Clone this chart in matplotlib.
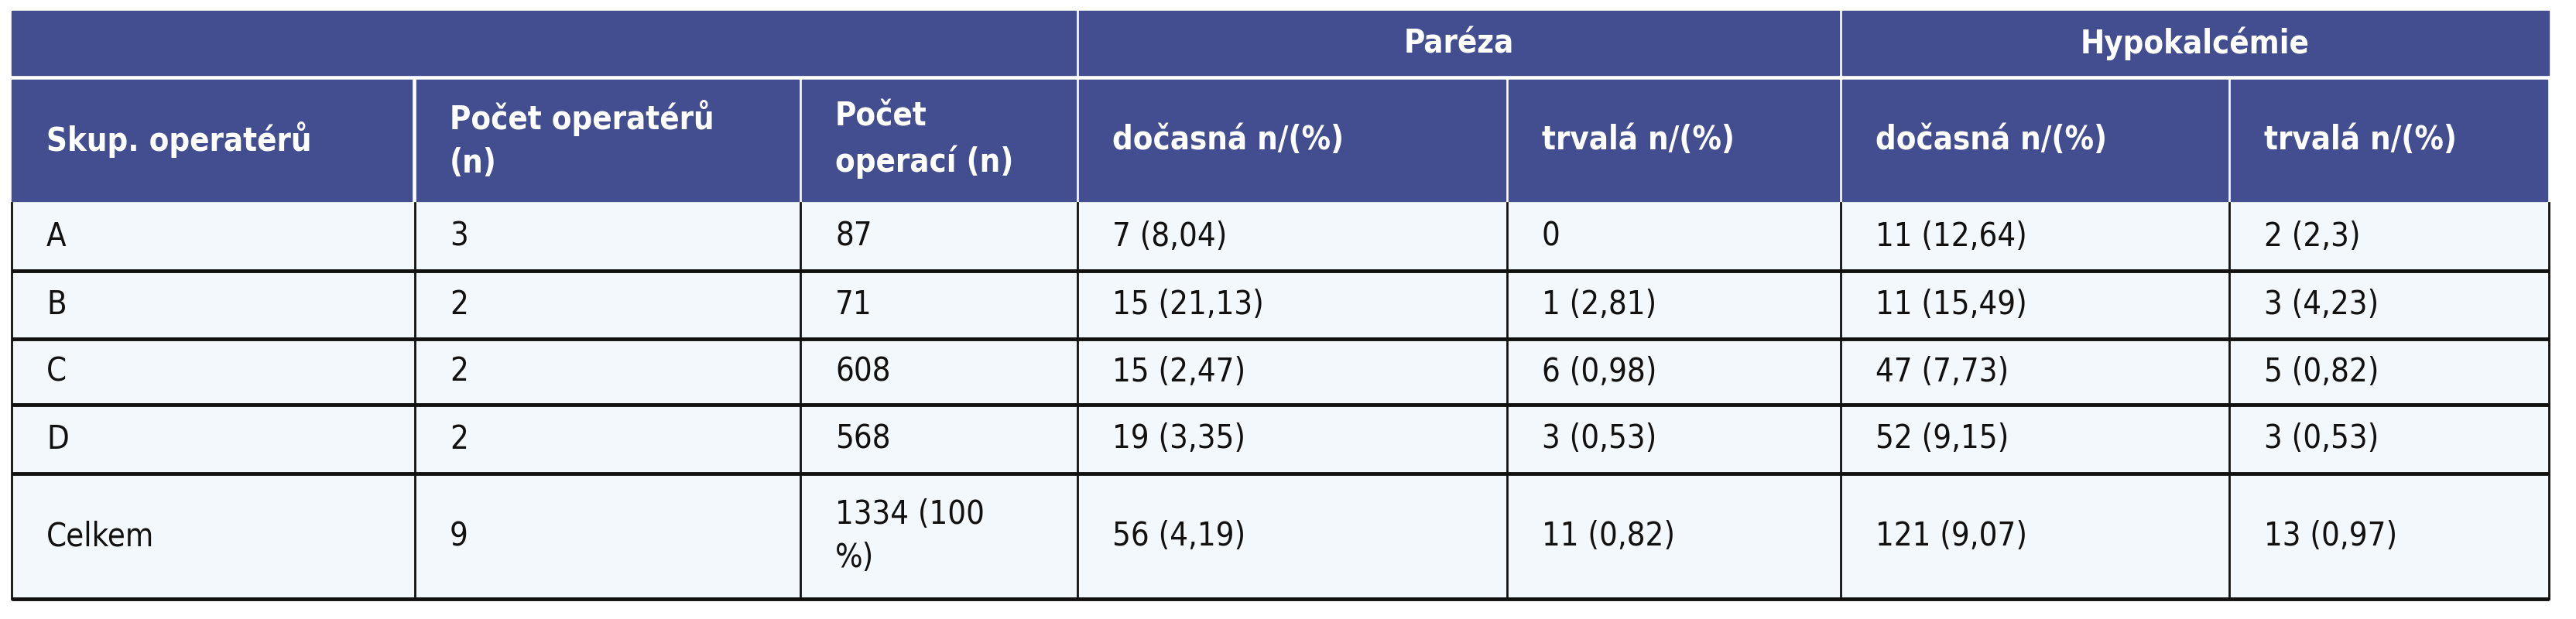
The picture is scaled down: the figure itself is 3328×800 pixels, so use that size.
import matplotlib.pyplot as plt
from matplotlib.patches import Rectangle

# table content
groups = ["A", "B", "C", "D", "Celkem"]
n_operators = ["3", "2", "2", "2", "9"]
n_operations = ["87", "71", "608", "568", "1334 (100\n%)"]
pareza_temp = ["7 (8,04)", "15 (21,13)", "15 (2,47)", "19 (3,35)", "56 (4,19)"]
pareza_perm = ["0", "1 (2,81)", "6 (0,98)", "3 (0,53)", "11 (0,82)"]
hypo_temp = ["11 (12,64)", "11 (15,49)", "47 (7,73)", "52 (9,15)", "121 (9,07)"]
hypo_perm = ["2 (2,3)", "3 (4,23)", "5 (0,82)", "3 (0,53)", "13 (0,97)"]
col_headers = ["Skup. operatérů", "Počet operatérů\n(n)", "Počet\noperací (n)",
               "dočasná n/(%)", "trvalá n/(%)", "dočasná n/(%)", "trvalá n/(%)"]

W, H = 3328, 800
xs = [15, 536, 1034, 1392, 1947, 2378, 2880, 3293]
ys = [14, 99, 262, 350, 438, 523, 612, 774]
HEAD = "#434e90"
BG = "#f3f8fd"
FS = 30

fig = plt.figure(figsize=(W / 100, H / 100), dpi=100)
ax = fig.add_axes([0, 0, 1, 1])
ax.set_xlim(0, W)
ax.set_ylim(H, 0)
ax.axis("off")

kw = dict(fontsize=FS, fontstretch="condensed", va="center", linespacing=1.45)

# header row 1
ax.add_patch(Rectangle((xs[0], ys[0]), xs[3] - xs[0] - 2, ys[1] - ys[0] - 2, color=HEAD))
ax.add_patch(Rectangle((xs[3] + 2, ys[0]), xs[5] - xs[3] - 4, ys[1] - ys[0] - 2, color=HEAD))
ax.add_patch(Rectangle((xs[5] + 2, ys[0]), xs[7] - xs[5] - 2, ys[1] - ys[0] - 2, color=HEAD))
ax.text((xs[3] + xs[5]) / 2, (ys[0] + ys[1]) / 2, "Paréza", color="white", ha="center",
        fontweight="bold", **kw)
ax.text((xs[5] + xs[7]) / 2, (ys[0] + ys[1]) / 2, "Hypokalcémie", color="white", ha="center",
        fontweight="bold", **kw)

# header row 2
for i, lab in enumerate(col_headers):
    ax.add_patch(Rectangle((xs[i] + (2 if i else 0), ys[1] + 4), xs[i + 1] - xs[i] - 4,
                           ys[2] - ys[1] - 6, color=HEAD))
    ax.text(xs[i] + 45, (ys[1] + ys[2]) / 2, lab, color="white", ha="left",
            fontweight="semibold", **kw)

# data rows
ax.add_patch(Rectangle((xs[0], ys[2]), xs[-1] - xs[0], ys[-1] - ys[2], color=BG))
cols = [groups, n_operators, n_operations, pareza_temp, pareza_perm, hypo_temp, hypo_perm]
for r in range(len(groups)):
    yc = (ys[r + 2] + ys[r + 3]) / 2
    for c, col in enumerate(cols):
        ax.text(xs[c] + 45, yc, col[r], color="#111111", ha="left", **kw)

for y in ys[3:]:
    ax.plot([xs[0], xs[-1]], [y, y], color="#111111", lw=3.5, solid_capstyle="butt")
for x in xs:
    ax.plot([x, x], [ys[2], ys[-1]], color="#111111", lw=2)

fig.savefig("out.png", dpi=100)
